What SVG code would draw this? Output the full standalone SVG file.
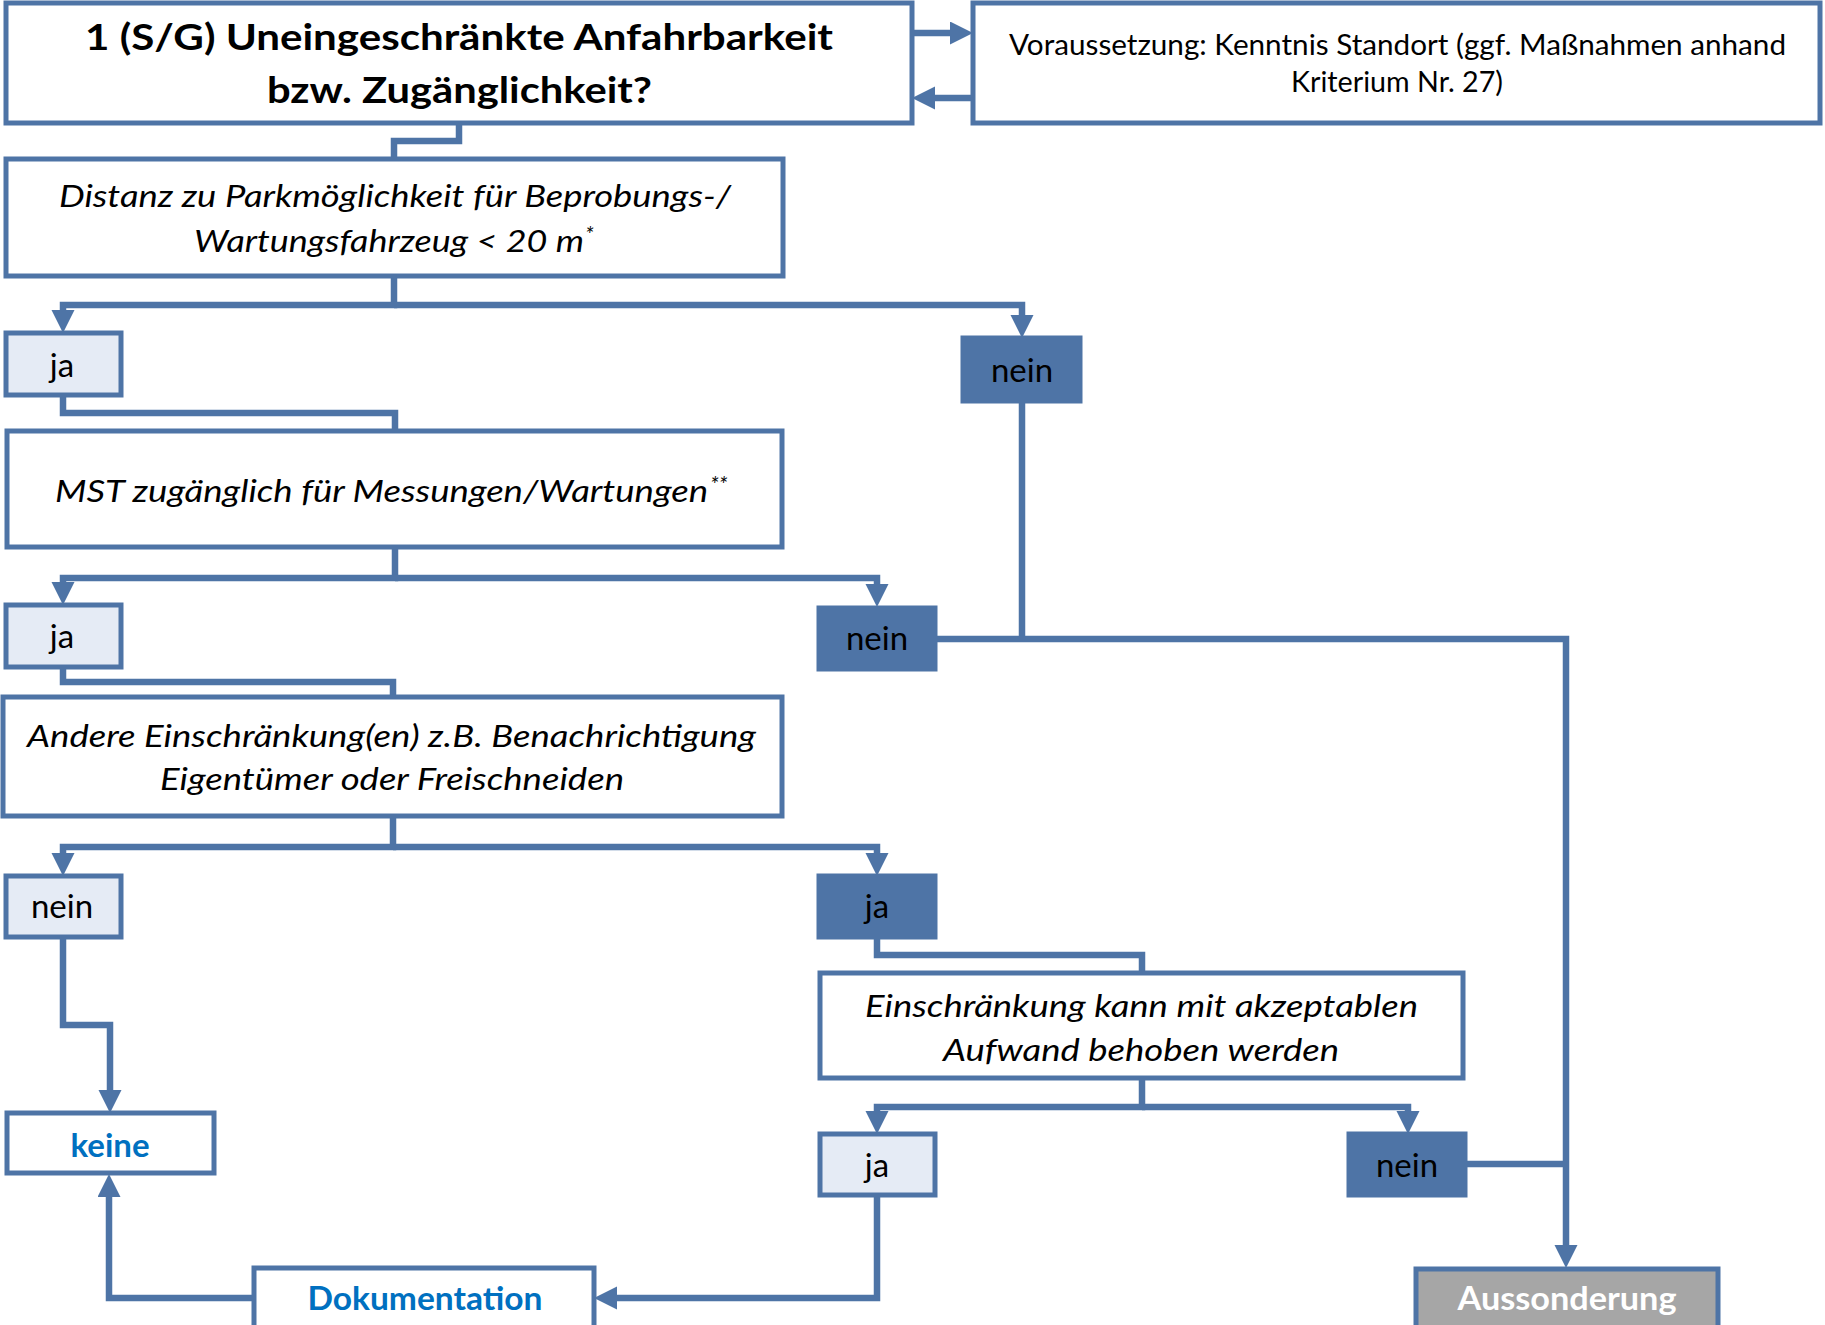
<svg xmlns="http://www.w3.org/2000/svg" width="1825" height="1325" viewBox="0 0 1825 1325">
<style>
.box{fill:#FFFFFF;stroke:#4E74A6;stroke-width:5}
.lt{fill:#E5EBF5;stroke:#4E74A6;stroke-width:5}
.dk{fill:#4E74A6;stroke:#4E74A6;stroke-width:5}
.gr{fill:#A6A6A6;stroke:#4E74A6;stroke-width:5}
.c{fill:none;stroke:#4E74A6;stroke-width:6.5;stroke-linejoin:miter}
.a{marker-end:url(#ah)}
text{font-family:Lato,"Liberation Sans",sans-serif;fill:#000}
.t{font-size:36px;font-weight:bold;text-anchor:middle}
.n{font-size:29px;text-anchor:middle}
.i{font-size:30px;font-style:italic}
.im{font-size:30px;font-style:italic;text-anchor:middle}
.l{font-size:33px;text-anchor:middle}
.b{font-size:33px;font-weight:bold;text-anchor:middle;fill:#0070C0}
.w{font-size:33px;font-weight:bold;text-anchor:middle;fill:#FFFFFF}
.s{font-size:22px;font-style:italic}
</style>
<defs>
<marker id="ah" markerUnits="userSpaceOnUse" markerWidth="26" markerHeight="26" refX="1" refY="11.5" orient="auto">
<path d="M0,0 L23,11.5 L0,23 z" fill="#4E74A6"/>
</marker>
</defs>

<g id="connectors">
<path class="c a" d="M912,33 H951"/>
<path class="c a" d="M973,98 H934"/>
<path class="c" d="M459,124 V141 H394 V159"/>
<path class="c a" d="M394,276 V305 H63 V311"/>
<path class="c a" d="M394,305 H1022 V316"/>
<path class="c" d="M63,395 V413 H395 V431"/>
<path class="c" d="M1022,401 V639"/>
<path class="c a" d="M935,639 H1566 V1246"/>
<path class="c a" d="M395,547 V578 H63 V583"/>
<path class="c a" d="M395,578 H877 V585"/>
<path class="c" d="M63,667 V682 H393 V697"/>
<path class="c a" d="M393,816 V847 H63 V854"/>
<path class="c a" d="M393,847 H877 V854"/>
<path class="c" d="M877,937 V955 H1142 V973"/>
<path class="c a" d="M63,937 V1025 H110 V1091"/>
<path class="c a" d="M1142,1078 V1107 H877 V1112"/>
<path class="c a" d="M1142,1107 H1408 V1112"/>
<path class="c" d="M1465,1164 H1566"/>
<path class="c a" d="M877,1195 V1298 H616"/>
<path class="c a" d="M254,1298 H109 V1196"/>
</g>

<g id="title">
<rect class="box" x="6" y="3" width="906" height="120"/>
<text class="t" x="459" y="50" textLength="748" lengthAdjust="spacingAndGlyphs">1 (S/G) Uneingeschränkte Anfahrbarkeit</text>
<text class="t" x="459.5" y="103" textLength="385" lengthAdjust="spacingAndGlyphs">bzw. Zugänglichkeit?</text>
</g>

<g id="voraussetzung">
<rect class="box" x="973" y="3" width="847" height="120"/>
<text class="n" x="1397.5" y="55" textLength="777" lengthAdjust="spacingAndGlyphs">Voraussetzung: Kenntnis Standort (ggf. Maßnahmen anhand</text>
<text class="n" x="1397" y="92" textLength="212" lengthAdjust="spacingAndGlyphs">Kriterium Nr. 27)</text>
</g>

<g id="distanz">
<rect class="box" x="6" y="159" width="777" height="117"/>
<text class="im" x="395" y="207" textLength="672" lengthAdjust="spacingAndGlyphs">Distanz zu Parkmöglichkeit für Beprobungs-/</text>
<text class="i" x="194" y="252" textLength="390" lengthAdjust="spacingAndGlyphs">Wartungsfahrzeug &lt; 20 m</text>
<text class="s" x="585" y="242">*</text>
</g>

<g id="ja1">
<rect class="lt" x="6" y="333" width="115" height="62"/>
<text class="l" x="62" y="377">ja</text>
</g>

<g id="nein1">
<rect class="dk" x="963" y="338" width="117" height="63"/>
<text class="l" x="1022" y="382">nein</text>
</g>

<g id="mst">
<rect class="box" x="7" y="431" width="775" height="116"/>
<text class="i" x="55" y="502" textLength="653" lengthAdjust="spacingAndGlyphs">MST zugänglich für Messungen/Wartungen</text>
<text class="s" x="710" y="492">**</text>
</g>

<g id="ja2">
<rect class="lt" x="6" y="605" width="115" height="62"/>
<text class="l" x="62" y="648">ja</text>
</g>

<g id="nein2">
<rect class="dk" x="819" y="608" width="116" height="61"/>
<text class="l" x="877" y="650">nein</text>
</g>

<g id="andere">
<rect class="box" x="3" y="697" width="779" height="119"/>
<text class="im" x="391.5" y="747" textLength="729" lengthAdjust="spacingAndGlyphs">Andere Einschränkung(en) z.B. Benachrichtigung</text>
<text class="im" x="392" y="790" textLength="464" lengthAdjust="spacingAndGlyphs">Eigentümer oder Freischneiden</text>
</g>

<g id="nein3">
<rect class="lt" x="6" y="876" width="115" height="61"/>
<text class="l" x="62" y="918">nein</text>
</g>

<g id="ja3">
<rect class="dk" x="819" y="876" width="116" height="61"/>
<text class="l" x="877" y="918">ja</text>
</g>

<g id="einschraenkung">
<rect class="box" x="820" y="973" width="643" height="105"/>
<text class="im" x="1141.5" y="1017" textLength="553" lengthAdjust="spacingAndGlyphs">Einschränkung kann mit akzeptablen</text>
<text class="im" x="1141" y="1061" textLength="396" lengthAdjust="spacingAndGlyphs">Aufwand behoben werden</text>
</g>

<g id="ja4">
<rect class="lt" x="820" y="1134" width="115" height="61"/>
<text class="l" x="877" y="1177">ja</text>
</g>

<g id="nein4">
<rect class="dk" x="1349" y="1134" width="116" height="61"/>
<text class="l" x="1407" y="1177">nein</text>
</g>

<g id="keine">
<rect class="box" x="7" y="1113" width="207" height="60"/>
<text class="b" x="110" y="1157">keine</text>
</g>

<g id="dokumentation">
<rect class="box" x="254" y="1268" width="340" height="70"/>
<text class="b" x="425" y="1310" textLength="235" lengthAdjust="spacingAndGlyphs">Dokumentation</text>
</g>

<g id="aussonderung">
<rect class="gr" x="1416" y="1269" width="302" height="70"/>
<text class="w" x="1567" y="1310" textLength="219" lengthAdjust="spacingAndGlyphs">Aussonderung</text>
</g>
</svg>
